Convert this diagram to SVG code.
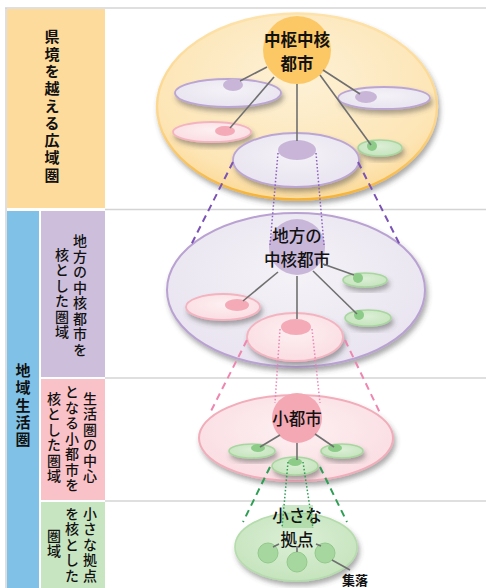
<svg xmlns="http://www.w3.org/2000/svg" width="486" height="588" viewBox="0 0 486 588">
<defs>
<filter id="sh" x="-20%" y="-20%" width="140%" height="160%">
<feDropShadow dx="2" dy="4" stdDeviation="2.5" flood-color="#444" flood-opacity="0.45"/>
</filter>
<radialGradient id="gO" cx="50%" cy="35%" r="62%">
<stop offset="0" stop-color="#fdf1d6"/><stop offset="0.85" stop-color="#fde5b5"/><stop offset="1" stop-color="#fcdda0"/>
</radialGradient>
<linearGradient id="sO" x1="0" y1="0" x2="0" y2="1">
<stop offset="0" stop-color="#fde2aa"/><stop offset="0.6" stop-color="#fbd58a"/><stop offset="1" stop-color="#f5b236"/>
</linearGradient>
<radialGradient id="gP" cx="50%" cy="40%" r="60%">
<stop offset="0" stop-color="#f4f2f7"/><stop offset="1" stop-color="#e9e4f0"/>
</radialGradient>
<radialGradient id="gK" cx="50%" cy="40%" r="60%">
<stop offset="0" stop-color="#fdf0f2"/><stop offset="1" stop-color="#fadde2"/>
</radialGradient>
<radialGradient id="gG" cx="50%" cy="40%" r="60%">
<stop offset="0" stop-color="#dcefd6"/><stop offset="1" stop-color="#c5e4bd"/>
</radialGradient>
<style>
.lab{font-family:"Noto Sans CJK JP","Noto Sans CJK SC",sans-serif;fill:#111;}
.v{writing-mode:vertical-rl;text-anchor:middle;font-size:14px;font-weight:500;letter-spacing:1.5px;}
.vb{writing-mode:vertical-rl;text-anchor:middle;font-size:15px;font-weight:700;letter-spacing:2.3px;}
.c{text-anchor:middle;font-size:16.5px;}
.sep{stroke:#d4d4d4;stroke-width:1.5;}
.ln{stroke:#707070;stroke-width:1.6;fill:none;}
.ep{fill:url(#gP);stroke:#bba6d3;stroke-width:1.8;}
.ek{fill:url(#gK);stroke:#f3b4c0;stroke-width:1.8;}
.eg{fill:url(#gG);stroke:#a9d6a0;stroke-width:1.6;}
.dp{fill:#c8b5d8;}
.dk{fill:#f4aab7;}
.dg{fill:#8ccb88;}
.dashP{stroke:#7b52b5;stroke-width:2;stroke-dasharray:7 5;fill:none;}
.dotP{stroke:#8a5fc0;stroke-width:1.5;stroke-dasharray:1.5 2;fill:none;}
.dashK{stroke:#ef86b0;stroke-width:2;stroke-dasharray:7 5;fill:none;}
.dotK{stroke:#ee88b4;stroke-width:1.5;stroke-dasharray:1.5 2;fill:none;}
.dashG{stroke:#2f9e55;stroke-width:2;stroke-dasharray:7 5;fill:none;}
.dotG{stroke:#2f9e55;stroke-width:1.5;stroke-dasharray:1.5 2;fill:none;}
</style>
</defs>
<rect width="486" height="588" fill="#ffffff"/>

<g id="frame">
<line class="sep" x1="5" y1="8" x2="486" y2="8"/>
<line class="sep" x1="6" y1="8" x2="6" y2="588"/>
<line class="sep" x1="105" y1="209.5" x2="486" y2="209.5"/>
<line class="sep" x1="105" y1="378" x2="486" y2="378"/>
<line class="sep" x1="105" y1="501" x2="486" y2="501"/>
</g>

<g id="col-kouiki">
<rect x="7" y="9" width="98" height="199" fill="#fddb9c"/>
<text class="lab vb" x="52" y="107">県境を越える広域圏</text>
</g>
<g id="col-chiiki">
<rect x="7" y="211" width="32" height="377" fill="#80c1e7"/>
<text class="lab vb" x="23" y="406">地域生活圏</text>
</g>
<g id="col-chuukaku">
<rect x="41" y="211" width="64" height="166" fill="#cdbfdb"/>
<text class="lab v" x="80" y="296">地方の中核都市を</text>
<text class="lab v" x="62" y="294">核とした圏域</text>
</g>
<g id="col-shoutoshi">
<rect x="41" y="379" width="64" height="121" fill="#f9c2c9"/>
<text class="lab v" x="90" y="438">生活圏の中心</text>
<text class="lab v" x="72" y="439">となる小都市を</text>
<text class="lab v" x="54" y="438">核とした圏域</text>
</g>
<g id="col-kyoten">
<rect x="41" y="502" width="64" height="86" fill="#c8e5c1"/>
<text class="lab v" x="90" y="545">小さな拠点</text>
<text class="lab v" x="72" y="545">を核とした</text>
<text class="lab v" x="54" y="544">圏域</text>
</g>

<!-- Section 1 -->
<g id="area1">
<ellipse cx="297" cy="106.5" rx="140" ry="93" fill="url(#gO)" stroke="url(#sO)" stroke-width="2.4" filter="url(#sh)"/>
<ellipse class="ep" cx="228" cy="93" rx="53" ry="14" filter="url(#sh)"/>
<ellipse class="dp" cx="233" cy="85" rx="10" ry="6"/>
<ellipse class="ep" cx="384" cy="98" rx="46" ry="11" filter="url(#sh)"/>
<ellipse class="dp" cx="366" cy="97" rx="11" ry="6"/>
<ellipse class="ek" cx="212" cy="132" rx="39" ry="10" filter="url(#sh)"/>
<ellipse class="dk" cx="225" cy="131" rx="10" ry="5"/>
<ellipse class="eg" cx="380" cy="148" rx="22" ry="8" filter="url(#sh)"/>
<circle class="dg" cx="372" cy="146" r="5"/>
<ellipse class="ep" cx="296" cy="160" rx="63" ry="27" filter="url(#sh)"/>
<ellipse class="dp" cx="297" cy="150" rx="19" ry="10"/>
</g>
<g id="hub1">
<circle cx="297" cy="50" r="34" fill="#fcc865"/>
<text class="lab c" x="297" y="45.5" font-weight="700"><tspan x="297">中枢中核</tspan><tspan x="297" dy="24">都市</tspan></text>
</g>

<!-- Section 2 -->
<g id="area2">
<ellipse cx="296" cy="290" rx="129" ry="77" fill="url(#gP)" stroke="#b9a2d2" stroke-width="2" filter="url(#sh)"/>
<ellipse class="ek" cx="223" cy="307" rx="37" ry="13" filter="url(#sh)"/>
<ellipse class="dk" cx="237" cy="305" rx="12" ry="6"/>
<ellipse class="eg" cx="365" cy="280" rx="22" ry="7" filter="url(#sh)"/>
<circle class="dg" cx="358" cy="278" r="5"/>
<ellipse class="eg" cx="368" cy="318" rx="23" ry="8" filter="url(#sh)"/>
<circle class="dg" cx="359" cy="315" r="5"/>
<ellipse class="ek" cx="295" cy="337" rx="48" ry="24" filter="url(#sh)"/>
<ellipse class="dk" cx="296" cy="327" rx="15" ry="8"/>
</g>
<g id="hub2">
<circle cx="297" cy="247" r="28" fill="#c9b7da"/>
<text class="lab c" x="297" y="242.3" font-weight="500"><tspan x="297">地方の</tspan><tspan x="297" dy="24">中核都市</tspan></text>
</g>

<!-- Section 3 -->
<g id="area3">
<ellipse cx="296" cy="438" rx="97" ry="43" fill="url(#gK)" stroke="#f2adba" stroke-width="2" filter="url(#sh)"/>
<ellipse class="eg" cx="252" cy="451" rx="23" ry="7" filter="url(#sh)"/>
<ellipse class="dg" cx="258" cy="448" rx="7" ry="4"/>
<ellipse class="eg" cx="342" cy="451" rx="21" ry="7" filter="url(#sh)"/>
<ellipse class="dg" cx="335" cy="448" rx="7" ry="4"/>
<ellipse class="eg" cx="295" cy="466" rx="23" ry="9" filter="url(#sh)"/>
<ellipse class="dg" cx="295" cy="462" rx="7" ry="4"/>
</g>
<g id="hub3">
<circle cx="297" cy="418" r="25" fill="#f4a8b4"/>
<text class="lab c" x="297" y="424.5" font-weight="500" font-size="17.5">小都市</text>
</g>

<!-- Section 4 -->
<g id="area4">
<ellipse cx="296" cy="547" rx="61" ry="34" fill="url(#gG)" stroke="#b5dcac" stroke-width="1.6" filter="url(#sh)"/>
<polygon points="282,505 313,505 313,528 282,528" fill="#8fcb88" opacity="0.45"/>
</g>
<g id="hub4">
<text class="lab c" x="297" y="522" font-weight="500" font-size="16"><tspan x="297">小さな</tspan><tspan x="297" dy="23.5">拠点</tspan></text>
</g>
<g id="villages">
<circle cx="268" cy="553" r="10" fill="#a6d79f" stroke="#93c98b" stroke-width="1"/>
<circle cx="297" cy="562" r="10" fill="#a6d79f" stroke="#93c98b" stroke-width="1"/>
<circle cx="325" cy="553" r="10" fill="#a6d79f" stroke="#93c98b" stroke-width="1"/>
<text class="lab" x="342" y="585" font-size="13" font-weight="700">集落</text>
</g>

<g id="connectors">
<line class="ln" x1="267" y1="67" x2="240" y2="81"/>
<line class="ln" x1="274" y1="77" x2="230" y2="128"/>
<line class="ln" x1="297" y1="84" x2="297" y2="141"/>
<line class="ln" x1="320" y1="75" x2="371" y2="145"/>
<line class="ln" x1="323" y1="70" x2="360" y2="94"/>
<line class="dashP" x1="233" y1="162" x2="190" y2="247"/>
<line class="dashP" x1="358" y1="162" x2="400" y2="245"/>
<line class="dotP" x1="278" y1="153" x2="270" y2="245"/>
<line class="dotP" x1="316" y1="153" x2="324" y2="245"/>

<line class="ln" x1="278" y1="272" x2="243" y2="301"/>
<line class="ln" x1="297" y1="276" x2="297" y2="319"/>
<line class="ln" x1="313" y1="271" x2="357" y2="314"/>
<line class="ln" x1="323" y1="264" x2="354" y2="275"/>
<line class="dashK" x1="247" y1="340" x2="210" y2="413"/>
<line class="dashK" x1="345" y1="340" x2="380" y2="413"/>
<line class="dotK" x1="280" y1="329" x2="275" y2="403"/>
<line class="dotK" x1="312" y1="329" x2="320" y2="403"/>

<line class="ln" x1="280" y1="435" x2="260" y2="447"/>
<line class="ln" x1="315" y1="434" x2="334" y2="447"/>
<line class="ln" x1="297" y1="443" x2="297" y2="460"/>
<line class="dashG" x1="270" y1="467" x2="243" y2="522"/>
<line class="dashG" x1="320" y1="467" x2="347" y2="522"/>
<line class="dotG" x1="288" y1="462" x2="282" y2="528"/>
<line class="dotG" x1="303" y1="462" x2="313" y2="528"/>

<line class="ln" x1="279" y1="544" x2="273" y2="547"/>
<line class="ln" x1="297" y1="546" x2="297" y2="552"/>
<line class="ln" x1="316" y1="544" x2="321" y2="546"/>
<line class="ln" x1="332" y1="560" x2="350" y2="570"/>
</g>
</svg>
